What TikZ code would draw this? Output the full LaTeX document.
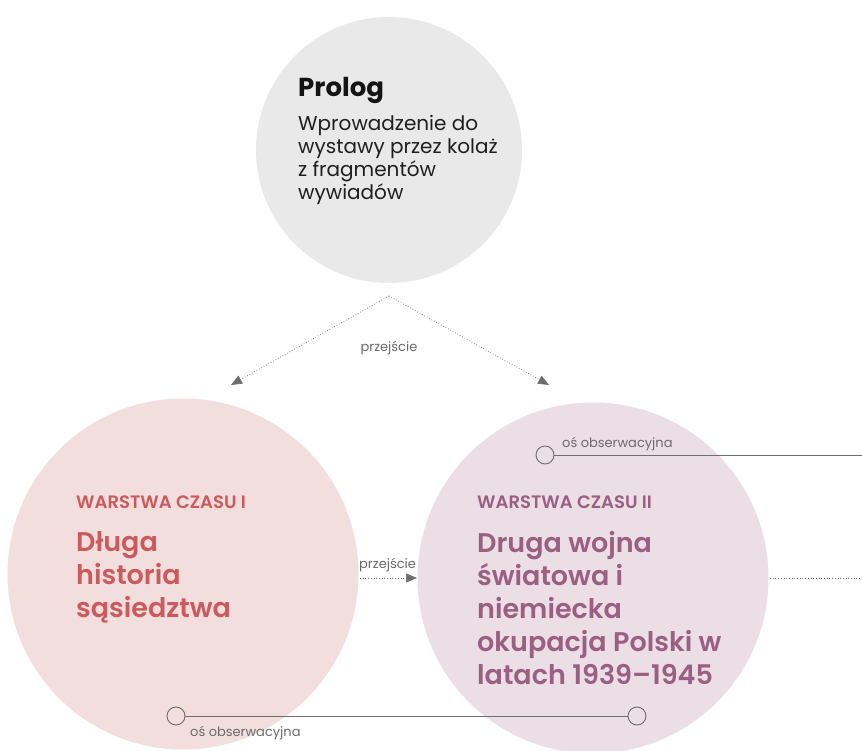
\documentclass[tikz,border=0pt]{standalone}
\usepackage{fontspec}
\setmainfont{Poppins}[BoldFont={Poppins SemiBold}]
\newfontfamily\heavyfont{Poppins Bold}
\usetikzlibrary{arrows.meta}
\definecolor{prologfill}{HTML}{E9E9E9}
\definecolor{onefill}{HTML}{F3DEDE}
\definecolor{twofill}{HTML}{EBDFE5}
\definecolor{onetext}{HTML}{CB5A5C}
\definecolor{twotext}{HTML}{9A5F82}
\definecolor{linegray}{HTML}{6E6E6E}
\definecolor{labelgray}{HTML}{6A6A6A}
\tikzset{
  bigcircle/.style={circle, inner sep=0pt, draw=none},
  obsdot/.style={circle, draw=linegray, line width=0.9pt, fill=none, minimum size=18pt, inner sep=0pt},
  obsline/.style={draw=linegray, line width=1pt},
  trans/.style={draw=labelgray, dotted, line width=0.7pt, -{Triangle[length=11pt,width=9pt]}, color=linegray},
  translabel/.style={text=labelgray, font=\fontsize{13}{15}\selectfont, inner sep=0pt},
  obslabel/.style={text=labelgray, font=\fontsize{13}{15}\selectfont, inner sep=0pt, anchor=base west},
  kicker/.style={font=\bfseries\fontsize{18}{21}\selectfont, inner sep=0pt, anchor=north west},
  title/.style={font=\bfseries\fontsize{27}{33}\selectfont, inner sep=0pt, anchor=north west, align=left},
}
\begin{document}
\begin{tikzpicture}[x=1pt, y=-1pt]
\useasboundingbox (0,0) rectangle (862,751);
% circles
\node[bigcircle, fill=prologfill, minimum size=266pt] (prolog) at (389,150) {};
\node[bigcircle, fill=onefill, minimum size=351pt] (one) at (183,574) {};
\node[bigcircle, fill=twofill, minimum size=351pt] (two) at (593,578) {};
% prolog text
\node[font=\heavyfont\fontsize{26}{32}\selectfont, text=black!92, inner sep=0pt, anchor=base west] (ptitle) at (298,97) {Prolog};
\node[font=\fontsize{20}{23}\selectfont, text=black!88, inner sep=0pt, anchor=north west, align=left] (pbody) at (298,115)
  {Wprowadzenie do\\wystawy przez kolaż\\z fragmentów\\wywiadów};
% layer I text
\node[kicker, text=onetext] (k1) at (76,496) {WARSTWA CZASU I};
\node[title, text=onetext] (t1) at (76,531) {Długa\\historia\\sąsiedztwa};
% layer II text
\node[kicker, text=twotext] (k2) at (477,496) {WARSTWA CZASU II};
\node[title, text=twotext] (t2) at (477,531) {Druga wojna\\światowa i\\niemiecka\\okupacja Polski w\\latach 1939–1945};
% transitions from prolog
\coordinate (apex) at (389,296);
\coordinate (tipL) at (231,385);
\coordinate (tipR) at (549,385);
\draw[trans] (apex) -- (tipL);
\draw[trans] (apex) -- (tipR);
\node[translabel] (lab1) at (389,348) {przejście};
% transition between layers
\coordinate (mstart) at (360,578);
\coordinate (mend) at (417,578);
\draw[trans] (mstart) -- (mend);
\node[translabel, anchor=base west] (lab2) at (359,568) {przejście};
% dotted continuation right
\coordinate (rstart) at (770,578);
\coordinate (rend) at (862,578);
\draw[draw=linegray, dotted, line width=0.7pt] (rstart) -- (rend);
% observation axis top
\node[obsdot] (o3) at (545,455) {};
\coordinate (o3end) at (862,455);
\draw[obsline] (o3) -- (o3end);
\node[obslabel] (ol3) at (562,447) {oś obserwacyjna};
% observation axis bottom
\node[obsdot] (o1) at (176,716) {};
\node[obsdot] (o2) at (637,716) {};
\draw[obsline] (o1) -- (o2);
\node[obslabel] (ol1) at (190,736) {oś obserwacyjna};
\end{tikzpicture}
\end{document}
